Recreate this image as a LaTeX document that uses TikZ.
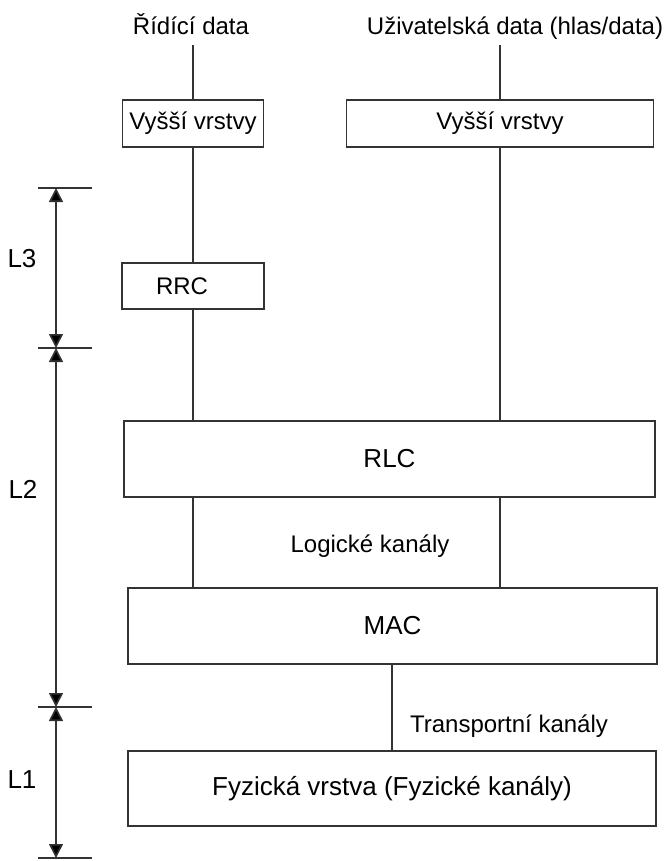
\documentclass[tikz,border=0pt]{standalone}
\usepackage{fontspec}
\setmainfont{Liberation Sans}
\usetikzlibrary{arrows.meta}

\begin{document}
\begin{tikzpicture}
[
x=1pt, y=-1pt,
layerbox/.style={rectangle, draw=black!80, line width=1.6pt, inner sep=0pt, font=\fontsize{26}{30}\selectfont},
smallbox/.style={layerbox, font=\fontsize{24}{28}\selectfont},
plainlabel/.style={inner sep=0pt, font=\fontsize{24}{28}\selectfont},
levellabel/.style={inner sep=0pt, font=\fontsize{26}{30}\selectfont},
link/.style={draw=black!80, line width=1.6pt},
levelarrow/.style={link, {Triangle[length=14pt,width=14pt,fill=black]}-{Triangle[length=14pt,width=14pt,fill=black]}},
]
\useasboundingbox (0,0) rectangle (665,861);

%Nodes
\node[plainlabel, anchor=base] (ctrl) at (191,35) {Řídící data};
\node[plainlabel, anchor=base] (user) at (515,35) {Uživatelská data (hlas/data)};
\coordinate (ctrltop) at (193,45);
\coordinate (usertop) at (500,45);

\node[smallbox, minimum width=141pt, minimum height=47pt] (higher1) at (193,123.5) {Vyšší vrstvy};
\node[smallbox, minimum width=307pt, minimum height=47pt] (higher2) at (500,123.5) {Vyšší vrstvy};
\node[smallbox, minimum width=142pt, minimum height=46pt, label={[font=\fontsize{24}{28}\selectfont]center:\hspace*{-22pt}RRC}] (rrc) at (193,286) {};
\node[layerbox, minimum width=531pt, minimum height=76pt] (rlc) at (389.5,459) {RLC};
\node[layerbox, minimum width=529pt, minimum height=76pt] (mac) at (392.5,626) {MAC};
\node[layerbox, minimum width=528pt, minimum height=75pt] (phy) at (392,788.5) {Fyzická vrstva (Fyzické kanály)};

\node[plainlabel, anchor=base] (logical) at (370,552) {Logické kanály};
\node[plainlabel, anchor=base] (transport) at (509,732) {Transportní kanály};

%Level marks on the left
\coordinate (lev0) at (56,188);
\coordinate (lev1) at (56,348);
\coordinate (lev2) at (56,707);
\coordinate (lev3) at (56,858);
\node[levellabel] (l3) at (22,259) {L3};
\node[levellabel] (l2) at (23,489) {L2};
\node[levellabel] (l1) at (22,780) {L1};

%Lines
\draw[link] (ctrltop) -- (higher1.north);
\draw[link] (usertop) -- (higher2.north);
\draw[link] (higher1.south) -- (rrc.north);
\draw[link] (rrc.south) -- (rrc.south |- rlc.north);
\draw[link] (higher2.south) -- (higher2.south |- rlc.north);
\draw[link] (rrc.south |- rlc.south) -- (rrc.south |- mac.north);
\draw[link] (higher2.south |- rlc.south) -- (higher2.south |- mac.north);
\draw[link] (phy.north |- mac.south) -- (phy.north);

\draw[link] ([xshift=-18pt]lev0) -- ([xshift=36pt]lev0);
\draw[link] ([xshift=-18pt]lev1) -- ([xshift=36pt]lev1);
\draw[link] ([xshift=-18pt]lev2) -- ([xshift=36pt]lev2);
\draw[link] ([xshift=-18pt]lev3) -- ([xshift=36pt]lev3);
\draw[levelarrow] (lev0) -- (lev1);
\draw[levelarrow] (lev1) -- (lev2);
\draw[levelarrow] (lev2) -- (lev3);
\end{tikzpicture}
\end{document}
